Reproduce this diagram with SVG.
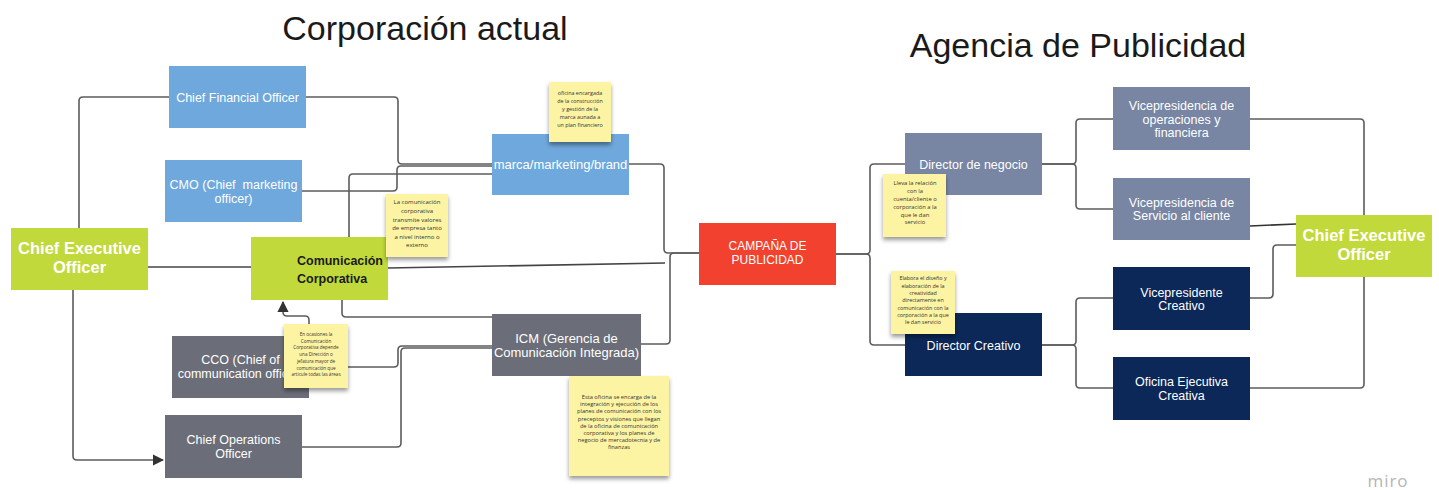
<svg xmlns="http://www.w3.org/2000/svg" width="1439" height="490" viewBox="0 0 1439 490">
<defs>
<style>
.blue{fill:#6fa8dc}
.gray{fill:#6b6e78}
.slate{fill:#7886a4}
.navy{fill:#0b2858}
.green{fill:#c2d93b}
.red{fill:#f2412f}
.sticky{fill:#fcf4a3;filter:url(#sh)}
.t{font-family:"Liberation Sans",Arial,sans-serif;font-size:12.5px;fill:#ffffff;text-anchor:middle}
.big{font-family:"Liberation Sans",Arial,sans-serif;font-size:16.5px;font-weight:bold;fill:#ffffff;text-anchor:middle}
.dark{font-family:"Liberation Sans",Arial,sans-serif;font-size:12.5px;font-weight:bold;fill:#1a1a1a}
.title{font-family:"Liberation Sans",Arial,sans-serif;font-size:34px;fill:#1a1a1a;text-anchor:middle}
.n{font-family:"Open Sans","Liberation Sans",sans-serif;fill:#333333;text-anchor:middle}
.c{fill:none;stroke:#5c5c5c;stroke-width:1.6}
</style>
<filter id="sh" x="-20%" y="-20%" width="140%" height="150%">
<feDropShadow dx="0" dy="3" stdDeviation="2" flood-color="#000000" flood-opacity="0.4"/>
</filter>
<marker id="ah" viewBox="0 0 10 10" refX="9" refY="5" markerWidth="7" markerHeight="7" orient="auto">
<path d="M0,0 L10,5 L0,10 z" fill="#333333"/>
</marker>
</defs>
<rect width="1439" height="490" fill="#ffffff"/>
<text class="title" x="425" y="40">Corporación actual</text>
<text class="title" x="1078" y="57">Agencia de Publicidad</text>
<g id="connectors">
<path class="c" d="M79,228 V101 Q79,97 83,97 H169"/>
<path class="c" d="M73,290 V456 Q73,460 77,460 H163" marker-end="url(#ah)"/>
<path class="c" d="M148,267 H251" style="stroke:#444"/>
<path class="c" d="M306,97 H394 Q398,97 398,101 V160 Q398,164 402,164 H492"/>
<path class="c" d="M302,191 H393 Q397,191 397,187 V170 Q397,166 401,166 H492"/>
<path class="c" d="M349,237 V178 Q349,174 353,174 H492"/>
<path class="c" d="M388,268 L665,263" style="stroke:#444"/>
<path class="c" d="M342,300 V313 Q342,317 346,317 H492"/>
<path class="c" d="M309,367 H394 Q398,367 398,363 V350 Q398,346 402,346 H492"/>
<path class="c" d="M302,447 H397 Q401,447 401,443 V352 Q401,348 405,348 H492"/>
<path class="c" d="M309,324 V320 Q309,316 305,316 H287 Q283,316 283,312 V302" marker-end="url(#ah)"/>
<path class="c" d="M629,164 H660 Q664,164 664,168 V249 Q664,253 668,253 H699"/>
<path class="c" d="M641,344 H666 Q670,344 670,340 V257 Q670,253 674,253 H699"/>
<path class="c" d="M836,254 H866 Q870,254 870,250 V168 Q870,164 874,164 H905"/>
<path class="c" d="M836,254 H866 Q870,254 870,258 V341 Q870,345 874,345 H905"/>
<path class="c" d="M1042,164 H1072 Q1076,164 1076,160 V123 Q1076,119 1080,119 H1113"/>
<path class="c" d="M1042,164 H1072 Q1076,164 1076,168 V205 Q1076,209 1080,209 H1113"/>
<path class="c" d="M1042,345 H1072 Q1076,345 1076,341 V302 Q1076,298 1080,298 H1113"/>
<path class="c" d="M1042,345 H1072 Q1076,345 1076,349 V384 Q1076,388 1080,388 H1113"/>
<path class="c" d="M1250,119 H1360 Q1364,119 1364,123 V384 Q1364,388 1360,388 H1250"/>
<path class="c" d="M1250,226 L1296,224" style="stroke:#333"/>
<path class="c" d="M1250,298 H1269 Q1273,298 1273,294 V249 Q1273,245 1277,245 H1296"/>
</g>
<g id="cfo"><rect class="blue" x="169" y="66" width="137" height="62"/><text class="t" x="237.5" y="101.5">Chief Financial Officer</text></g>
<g id="cmo"><rect class="blue" x="165" y="160" width="137" height="62"/><text class="t" x="233.5" y="189">CMO (Chief&#160; marketing</text><text class="t" x="233.5" y="203">officer)</text></g>
<g id="ceo-left"><rect class="green" x="11" y="228" width="137" height="62"/><text class="big" x="79.5" y="254">Chief Executive</text><text class="big" x="79.5" y="273">Officer</text></g>
<g id="comunicacion"><rect class="green" x="251" y="237" width="137" height="63"/><text class="dark" x="297" y="265" textLength="86" lengthAdjust="spacingAndGlyphs">Comunicación</text><text class="dark" x="297" y="283">Corporativa</text></g>
<g id="cco"><rect class="gray" x="172" y="336" width="137" height="62"/><text class="t" x="240.5" y="363.5">CCO (Chief of</text><text class="t" x="240.5" y="377.5">communication officer)</text></g>
<g id="coo"><rect class="gray" x="165" y="415" width="137" height="63"/><text class="t" x="233.5" y="443.5">Chief Operations</text><text class="t" x="233.5" y="457.5">Officer</text></g>
<g id="marca"><rect class="blue" x="492" y="134" width="137" height="61"/><text class="t" x="560.5" y="168.5" style="font-size:13px">marca/marketing/brand</text></g>
<g id="icm"><rect class="gray" x="492" y="314" width="149" height="62"/><text class="t" x="566.5" y="342.5" style="font-size:13px">ICM (Gerencia de</text><text class="t" x="566.5" y="356.5" style="font-size:13px">Comunicación Integrada)</text></g>
<g id="campana"><rect class="red" x="699" y="223" width="137" height="62"/><text class="t" x="767.5" y="250" style="font-size:12px">CAMPAÑA DE</text><text class="t" x="767.5" y="263.5" style="font-size:12px">PUBLICIDAD</text></g>
<g id="director-negocio"><rect class="slate" x="905" y="133" width="137" height="62"/><text class="t" x="973.5" y="168.5">Director de negocio</text></g>
<g id="director-creativo"><rect class="navy" x="905" y="313" width="137" height="63"/><text class="t" x="973.5" y="349.5">Director Creativo</text></g>
<g id="vp-operaciones"><rect class="slate" x="1113" y="87" width="137" height="63"/><text class="t" x="1181.5" y="109.5">Vicepresidencia de</text><text class="t" x="1181.5" y="123.5">operaciones y</text><text class="t" x="1181.5" y="137">financiera</text></g>
<g id="vp-servicio"><rect class="slate" x="1113" y="178" width="137" height="62"/><text class="t" x="1181.5" y="206.5">Vicepresidencia de</text><text class="t" x="1181.5" y="220">Servicio al cliente</text></g>
<g id="vp-creativo"><rect class="navy" x="1113" y="267" width="137" height="63"/><text class="t" x="1181.5" y="296.5">Vicepresidente</text><text class="t" x="1181.5" y="310">Creativo</text></g>
<g id="oficina-ejecutiva"><rect class="navy" x="1113" y="357" width="137" height="63"/><text class="t" x="1181.5" y="386">Oficina Ejecutiva</text><text class="t" x="1181.5" y="399.5">Creativa</text></g>
<g id="ceo-right"><rect class="green" x="1296" y="215" width="136" height="62"/><text class="big" x="1364" y="241">Chief Executive</text><text class="big" x="1364" y="260">Officer</text></g>
<g id="note-marca"><rect class="sticky" x="549" y="82" width="62" height="60"/>
<g class="n" style="font-size:5.4px"><text x="580" y="95">oficina encargada</text><text x="580" y="103">de la construcción</text><text x="580" y="111">y gestión de la</text><text x="580" y="119">marca aunada a</text><text x="580" y="127">un plan financiero</text></g></g>
<g id="note-comunicacion"><rect class="sticky" x="386" y="194" width="62" height="63"/>
<g class="n" style="font-size:6px"><text x="417" y="204">La comunicación</text><text x="417" y="213">corporativa</text><text x="417" y="221.5">transmite valores</text><text x="417" y="230">de empresa tanto</text><text x="417" y="238.5">a nivel interno o</text><text x="417" y="247">externo</text></g></g>
<g id="note-cco"><rect class="sticky" x="284" y="324" width="64" height="64"/>
<g class="n" style="font-size:4.6px"><text x="316" y="336">En ocasiones la</text><text x="316" y="342.7">Comunicación</text><text x="316" y="349.4">Corporativa depende</text><text x="316" y="356.1">una Dirección o</text><text x="316" y="362.8">jefatura mayor de</text><text x="316" y="369.5">comunicación que</text><text x="316" y="376.2">articule todas las áreas</text></g></g>
<g id="note-icm"><rect class="sticky" x="569" y="376" width="100" height="100"/>
<g class="n" style="font-size:5.7px"><text x="619" y="399">Esta oficina se encarga de la</text><text x="619" y="406.2">integración y ejecución de los</text><text x="619" y="413.4">planes de comunicación con los</text><text x="619" y="420.6">preceptos y visiones que llegan</text><text x="619" y="427.8">de la oficina de comunicación</text><text x="619" y="435">corporativa y los planes de</text><text x="619" y="442.2">negocio de mercadotecnia y de</text><text x="619" y="449.4">finanzas</text></g></g>
<g id="note-negocio"><rect class="sticky" x="883" y="174" width="63" height="63"/>
<g class="n" style="font-size:5.8px"><text x="915" y="185">Lleva la relación</text><text x="915" y="193">con la</text><text x="915" y="201">cuenta/cliente o</text><text x="915" y="209">corporación a la</text><text x="915" y="216.5">que le dan</text><text x="915" y="224">servicio</text></g></g>
<g id="note-creativo"><rect class="sticky" x="891" y="271" width="64" height="63"/>
<g class="n" style="font-size:5.4px"><text x="923" y="280">Elabora el diseño y</text><text x="923" y="287.5">elaboración de la</text><text x="923" y="295">creatividad</text><text x="923" y="302">directamente en</text><text x="923" y="309.5">comunicación con la</text><text x="923" y="317">corporación a la que</text><text x="923" y="324">le dan servicio</text></g></g>
<text x="1388" y="487" style="font-family:'Open Sans','Liberation Sans',sans-serif;font-size:17px;fill:#b5b5b5;text-anchor:middle;letter-spacing:1px">miro</text>
</svg>
